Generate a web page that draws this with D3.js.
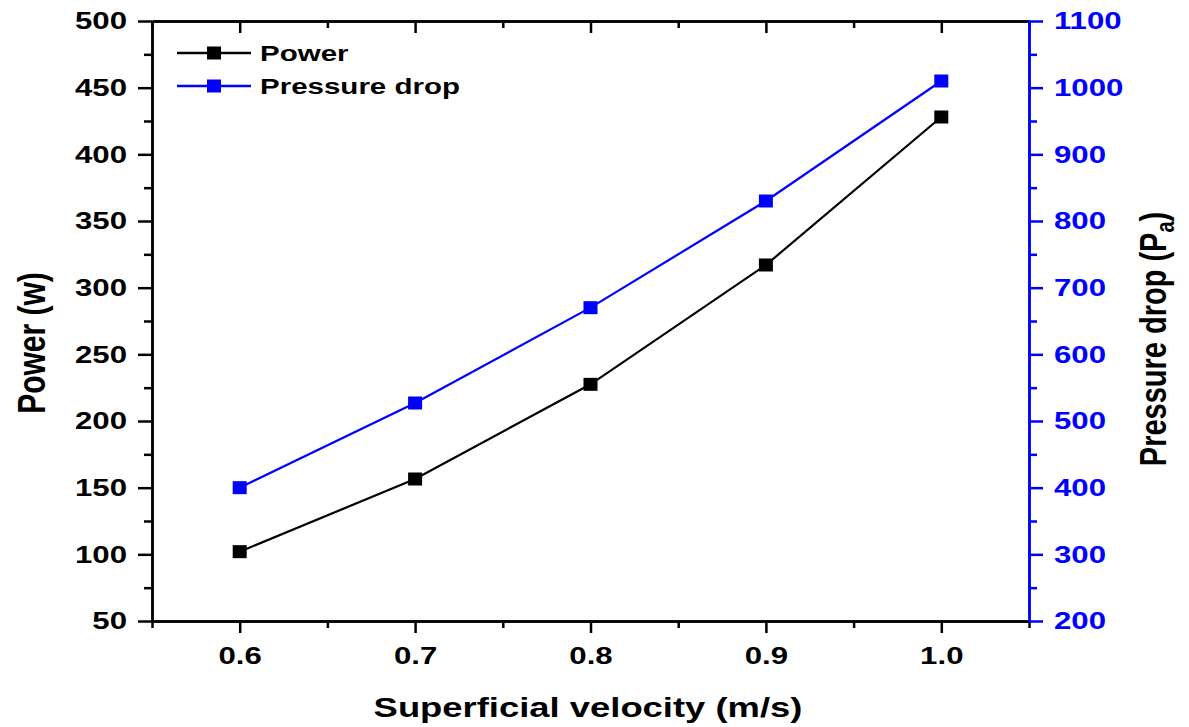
<!DOCTYPE html>
<html><head><meta charset="utf-8">
<script src="https://cdn.jsdelivr.net/npm/d3@7"></script>
<style>body{margin:0;background:#fff}text{font-family:"Liberation Sans",Arial,sans-serif;font-weight:bold}</style>
</head><body>
<svg id="c" width="1189" height="727"></svg>
<script>
const velocity = [0.6, 0.7, 0.8, 0.9, 1.0];
const power = [102, 156.5, 227.5, 317, 428];
const pressure = [400, 527, 670, 830, 1010];
const xTicks = [0.6, 0.7, 0.8, 0.9, 1.0];
const leftTicks = [50, 100, 150, 200, 250, 300, 350, 400, 450, 500];
const rightTicks = [200, 300, 400, 500, 600, 700, 800, 900, 1000, 1100];

const svg = d3.select("#c");
const L = 152, R = 1029, T = 21, B = 621;
const x = d3.scaleLinear().domain([0.55, 1.05]).range([L, R]);
const yL = d3.scaleLinear().domain([50, 500]).range([B, T]);
const yR = d3.scaleLinear().domain([200, 1100]).range([B, T]);
const blue = "#0000ff";
const FONT = '"Liberation Sans",Arial,sans-serif';
const SX = 1.3; // horizontal stretch of the lettering

const minorX = d3.range(0.55, 1.0501, 0.05).map(v => +v.toFixed(2)).filter(v => !xTicks.some(t => Math.abs(t - v) < 1e-6));
const minorL = d3.range(75, 500, 50);
const minorR = d3.range(250, 1100, 100);

// bottom axis
const gB = svg.append("g").attr("transform", `translate(0,${B})`);
gB.call(d3.axisBottom(x).tickValues(xTicks).tickFormat(d3.format(".1f")).tickSize(12).tickPadding(9).tickSizeOuter(0));
gB.append("g").call(d3.axisBottom(x).tickValues(minorX).tickSize(7).tickFormat("").tickSizeOuter(0));
// top axis
const gT = svg.append("g").attr("transform", `translate(0,${T})`);
gT.call(d3.axisBottom(x).tickValues(xTicks).tickSize(12).tickFormat("").tickSizeOuter(0));
gT.append("g").call(d3.axisBottom(x).tickValues(minorX).tickSize(7).tickFormat("").tickSizeOuter(0));
// left axis
const gL = svg.append("g").attr("transform", `translate(${L},0)`);
gL.call(d3.axisLeft(yL).tickValues(leftTicks).tickFormat(d3.format("d")).tickSize(14).tickPadding(11).tickSizeOuter(0));
gL.append("g").call(d3.axisLeft(yL).tickValues(minorL).tickSize(8).tickFormat("").tickSizeOuter(0));
// right axis
const gR = svg.append("g").attr("transform", `translate(${R},0)`);
gR.call(d3.axisRight(yR).tickValues(rightTicks).tickFormat(d3.format("d")).tickSize(14).tickPadding(11).tickSizeOuter(0));
gR.append("g").call(d3.axisRight(yR).tickValues(minorR).tickSize(8).tickFormat("").tickSizeOuter(0));

svg.selectAll(".domain, .tick line").attr("stroke", "#000").attr("stroke-width", 2.5);
svg.selectAll(".tick text").attr("font-size", 24).attr("font-weight", "bold").attr("font-family", FONT).attr("fill", "#000");
gR.selectAll(".domain, .tick line").attr("stroke", blue);
gR.selectAll(".tick text").attr("fill", blue);
gB.selectAll(".tick text").attr("dy", "0.9em").attr("transform", `scale(${SX},1)`);
gL.selectAll(".tick text").attr("x", -25 / SX).attr("transform", `scale(${SX},1)`);
gR.selectAll(".tick text").attr("x", 25 / SX).attr("transform", `scale(${SX},1)`);

// lines
const lineP = d3.line().x((d, i) => x(velocity[i])).y(d => yL(d));
const lineQ = d3.line().x((d, i) => x(velocity[i])).y(d => yR(d));
svg.append("path").attr("d", lineP(power)).attr("fill", "none").attr("stroke", "#000").attr("stroke-width", 2.2);
svg.append("path").attr("d", lineQ(pressure)).attr("fill", "none").attr("stroke", blue).attr("stroke-width", 2.2);
const mw = 14, mh = 13;
svg.selectAll(".mp").data(power).join("rect").attr("x", (d, i) => x(velocity[i]) - mw / 2).attr("y", d => yL(d) - mh / 2).attr("width", mw).attr("height", mh).attr("fill", "#000");
svg.selectAll(".mq").data(pressure).join("rect").attr("x", (d, i) => x(velocity[i]) - mw / 2).attr("y", d => yR(d) - mh / 2).attr("width", mw).attr("height", mh).attr("fill", blue);

// legend
const leg = [{name: "Power", c: "#000", y: 53}, {name: "Pressure drop", c: blue, y: 86}];
leg.forEach(l => {
  svg.append("line").attr("x1", 177).attr("x2", 251).attr("y1", l.y).attr("y2", l.y).attr("stroke", l.c).attr("stroke-width", 2.5);
  svg.append("rect").attr("x", 214 - mw / 2).attr("y", l.y - mh / 2).attr("width", mw).attr("height", mh).attr("fill", l.c);
  svg.append("text").attr("transform", `translate(260,${l.y}) scale(${SX},1)`).attr("dy", "0.36em").attr("font-size", 22.7).attr("fill", "#000").text(l.name);
});

// titles
svg.append("text").attr("transform", `translate(588,717) scale(${SX},1)`).attr("text-anchor", "middle").attr("font-size", 28).text("Superficial velocity (m/s)");
svg.append("text").attr("transform", `translate(45,343) scale(${SX},1) rotate(-90)`).attr("text-anchor", "middle").attr("font-size", 30).text("Power (w)");
const tr = svg.append("text").attr("transform", `translate(1166,339) scale(${SX},1) rotate(-90)`).attr("text-anchor", "middle").attr("font-size", 29);
tr.append("tspan").text("Pressure drop (P");
tr.append("tspan").attr("font-size", 20).attr("dy", 6).text("a");
tr.append("tspan").attr("dy", -6).text(")");
</script>
</body></html>
